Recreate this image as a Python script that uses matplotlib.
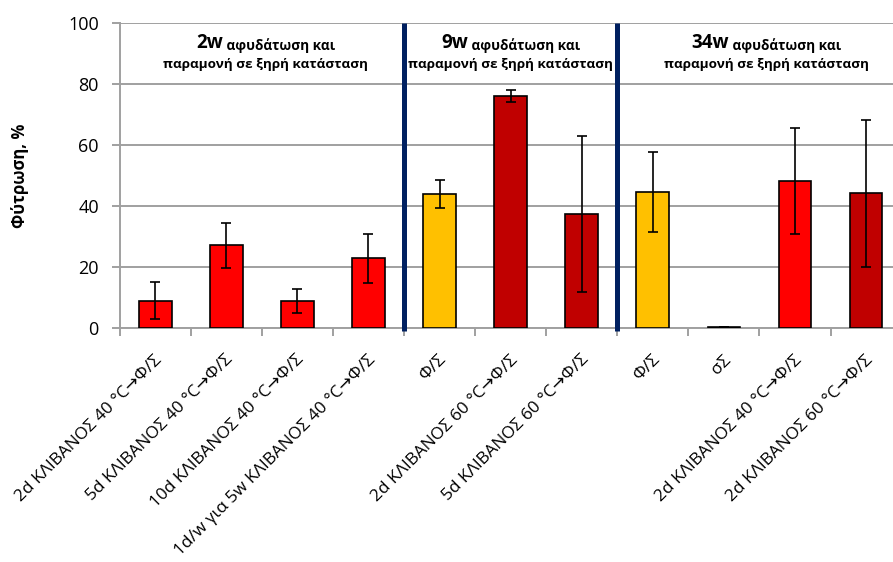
import matplotlib

matplotlib.use("Agg")
import matplotlib.pyplot as plt
import numpy as np

plt.rcParams["font.family"] = ["Open Sans", "DejaVu Sans"]

# --- data ---
labels = [
    "2d ΚΛΙΒΑΝΟΣ 40 °C→Φ/Σ",
    "5d ΚΛΙΒΑΝΟΣ 40 °C→Φ/Σ",
    "10d ΚΛΙΒΑΝΟΣ 40 °C→Φ/Σ",
    "1d/w για 5w ΚΛΙΒΑΝΟΣ 40 °C→Φ/Σ",
    "Φ/Σ",
    "2d ΚΛΙΒΑΝΟΣ 60 °C→Φ/Σ",
    "5d ΚΛΙΒΑΝΟΣ 60 °C→Φ/Σ",
    "Φ/Σ",
    "σΣ",
    "2d ΚΛΙΒΑΝΟΣ 40 °C→Φ/Σ",
    "2d ΚΛΙΒΑΝΟΣ 60 °C→Φ/Σ",
]
values = [9.0, 27.1, 9.0, 22.9, 44.0, 76.0, 37.4, 44.6, 0.5, 48.2, 44.2]
errors = [6.0, 7.2, 4.0, 8.1, 4.6, 2.0, 25.6, 13.2, 0.0, 17.5, 24.0]
bar_colors = ["#FF0000", "#FF0000", "#FF0000", "#FF0000", "#FFC000", "#C00000",
              "#C00000", "#FFC000", "#FFC000", "#FF0000", "#C00000"]
group_nums = ["2w", "9w", "34w"]
group_text1 = " αφυδάτωση και"
group_text2 = "παραμονή σε ξηρή κατάσταση"
group_breaks = [3.5, 6.5]

GRID = "#A0A0A0"
NAVY = "#002060"

fig = plt.figure(figsize=(8.93, 5.62), dpi=100)
ax = fig.add_axes([0.134, 0.4158, 0.8757, 0.5438])

x = np.arange(len(values))
ax.bar(x, values, width=0.46, color=bar_colors, edgecolor="black", linewidth=1.2, zorder=3)
ax.errorbar(x, values, yerr=errors, fmt="none", ecolor="black", elinewidth=1.2,
            capsize=3.8, capthick=1.2, zorder=4)

ax.set_xlim(-0.5, len(values) - 0.5)
ax.set_ylim(0, 100)
ax.set_yticks(range(0, 101, 20))
ax.yaxis.grid(True, color=GRID, linewidth=1.4, zorder=0)
ax.set_axisbelow(True)
for s in ["top", "right"]:
    ax.spines[s].set_visible(False)
for s in ["left", "bottom"]:
    ax.spines[s].set_color(GRID)
    ax.spines[s].set_linewidth(1.4)

# category boundary ticks on x, labels at category centres
ax.set_xticks(np.arange(-0.5, len(values) - 0.4, 1.0))
ax.set_xticklabels([])
ax.set_xticks(x + 0.06, minor=True)
ax.set_xticklabels(labels, minor=True, rotation=45, ha="right", va="center",
                   rotation_mode="anchor", fontsize=12.4)
ax.tick_params(axis="x", which="major", direction="out", length=6, color=GRID, width=1.4)
ax.tick_params(axis="x", which="minor", length=0, pad=21)
ax.tick_params(axis="y", direction="out", length=6, color=GRID, width=1.4,
               labelsize=13, pad=9)

ax.set_ylabel("Φύτρωση, %", fontsize=12, fontweight="bold", labelpad=28)

for b in group_breaks:
    ax.plot([b, b], [-0.8, 100], color=NAVY, linewidth=3.6, clip_on=False, zorder=5,
            solid_capstyle="butt")

# group headings
group_x = [1.55, 5.0, 8.6]
fig.canvas.draw()
r = fig.canvas.get_renderer()
for gx, num in zip(group_x, group_nums):
    big = ax.text(gx, 91.6, num, fontsize=13.5, fontweight="bold", ha="left", va="baseline")
    small = ax.annotate(group_text1, xy=(1, 0), xycoords=big, ha="left", va="bottom",
                        fontsize=9.8, fontweight="bold")
    ax.text(gx, 85.1, group_text2, fontsize=9.7, fontweight="bold", ha="center", va="baseline")
    w = big.get_window_extent(r).width + small.get_window_extent(r).width
    cx_disp = ax.transData.transform((gx, 0))[0]
    big.set_x(ax.transData.inverted().transform((cx_disp - w / 2, 0))[0])

fig.savefig("out.png", dpi=100)
